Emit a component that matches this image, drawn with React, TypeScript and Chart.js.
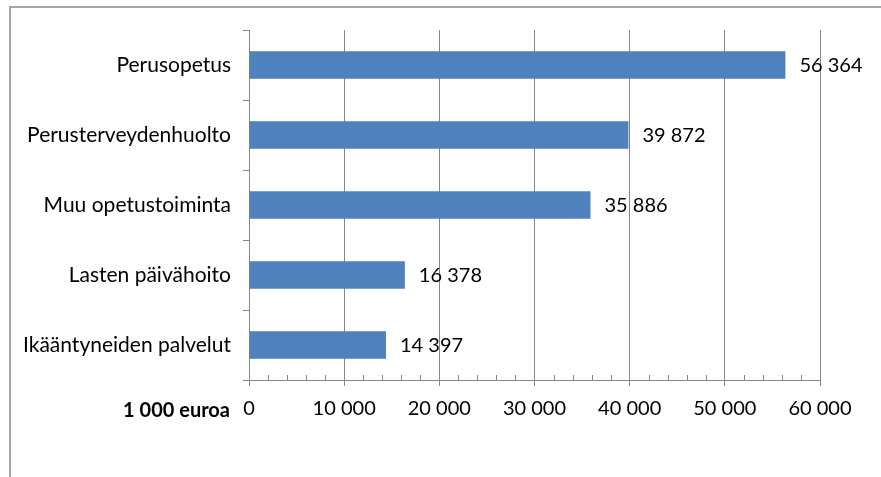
import React, { useEffect, useRef } from 'react';
import { Chart, registerables } from 'chart.js';

Chart.register(...registerables);

const categories = [
  'Perusopetus',
  'Perusterveydenhuolto',
  'Muu opetustoiminta',
  'Lasten päivähoito',
  'Ikääntyneiden palvelut',
];
const values = [56364, 39872, 35886, 16378, 14397];
const xMin = 0;
const xMax = 60000;
const xStep = 10000;
const minorStep = 2000;
const unitLabel = '1 000 euroa';

const fmt = (v: number) => String(v).replace(/\B(?=(\d{3})+(?!\d))/g, ' ');

const FONT = 'Lato, "Open Sans", sans-serif';
const GRID = '#868686';

const extrasPlugin = {
  id: 'extras',
  afterDatasetsDraw(chart: any) {
    const { ctx, chartArea } = chart;
    const xs = chart.scales.x;
    // minor ticks
    ctx.save();
    ctx.strokeStyle = GRID;
    ctx.lineWidth = 1;
    for (let v = xMin + minorStep; v < xMax; v += minorStep) {
      if (v % xStep === 0) continue;
      const px = Math.round(xs.getPixelForValue(v)) + 0.5;
      ctx.beginPath();
      ctx.moveTo(px, chartArea.bottom - 5);
      ctx.lineTo(px, chartArea.bottom);
      ctx.stroke();
    }
    // data labels
    ctx.fillStyle = '#000';
    ctx.font = `20px ${FONT}`;
    ctx.textAlign = 'left';
    ctx.textBaseline = 'middle';
    const meta = chart.getDatasetMeta(0);
    meta.data.forEach((el: any, i: number) => {
      ctx.fillText(fmt(values[i]), el.x + 14, el.y + 1);
    });
    // unit label
    ctx.font = `bold 20px ${FONT}`;
    ctx.textAlign = 'right';
    ctx.fillText(unitLabel, chartArea.left - 19, chartArea.bottom + 31);
    ctx.restore();
  },
};

export default function App() {
  const ref = useRef<HTMLCanvasElement | null>(null);
  useEffect(() => {
    if (!ref.current) return;
    const chart = new Chart(ref.current, {
      type: 'bar',
      data: {
        labels: categories,
        datasets: [
          {
            data: values,
            backgroundColor: '#4F81BD',
            borderWidth: 0,
            barPercentage: 0.39,
            categoryPercentage: 1,
          },
        ],
      },
      options: {
        indexAxis: 'y',
        responsive: false,
        animation: false,
        layout: { padding: { top: 30, right: 61, left: 0, bottom: 0 } },
        plugins: { legend: { display: false }, tooltip: { enabled: false } },
        scales: {
          x: {
            min: xMin,
            max: xMax,
            ticks: {
              stepSize: xStep,
              callback: (v: any) => fmt(Number(v)),
              font: { family: FONT, size: 20 },
              color: '#000',
              padding: 11,
              maxRotation: 0,
            },
            grid: { color: GRID, tickLength: 6, lineWidth: 1 },
            border: { color: GRID },
            afterFit: (s: any) => {
              s.height = 97;
            },
          },
          y: {
            offset: true,
            ticks: {
              font: { family: FONT, size: 21 },
              color: '#000',
              padding: 12,
            },
            grid: { drawOnChartArea: false, color: GRID, tickLength: 6, offset: true },
            border: { color: GRID },
            afterFit: (s: any) => {
              s.width = 249;
            },
          },
        },
      },
      plugins: [extrasPlugin],
    });
    return () => chart.destroy();
  }, []);
  return (
    <div style={{ position: 'absolute', left: 0, top: 0, width: 881, height: 477, overflow: 'hidden', background: '#fff' }}>
      <div
        style={{
          position: 'absolute',
          left: 9,
          top: 6,
          width: 1000,
          height: 1000,
          borderTop: '2px solid #a6a6a6',
          borderLeft: '2px solid #a6a6a6',
        }}
      />
      <canvas ref={ref} width={881} height={477} style={{ position: 'absolute', left: 0, top: 0 }} />
    </div>
  );
}
